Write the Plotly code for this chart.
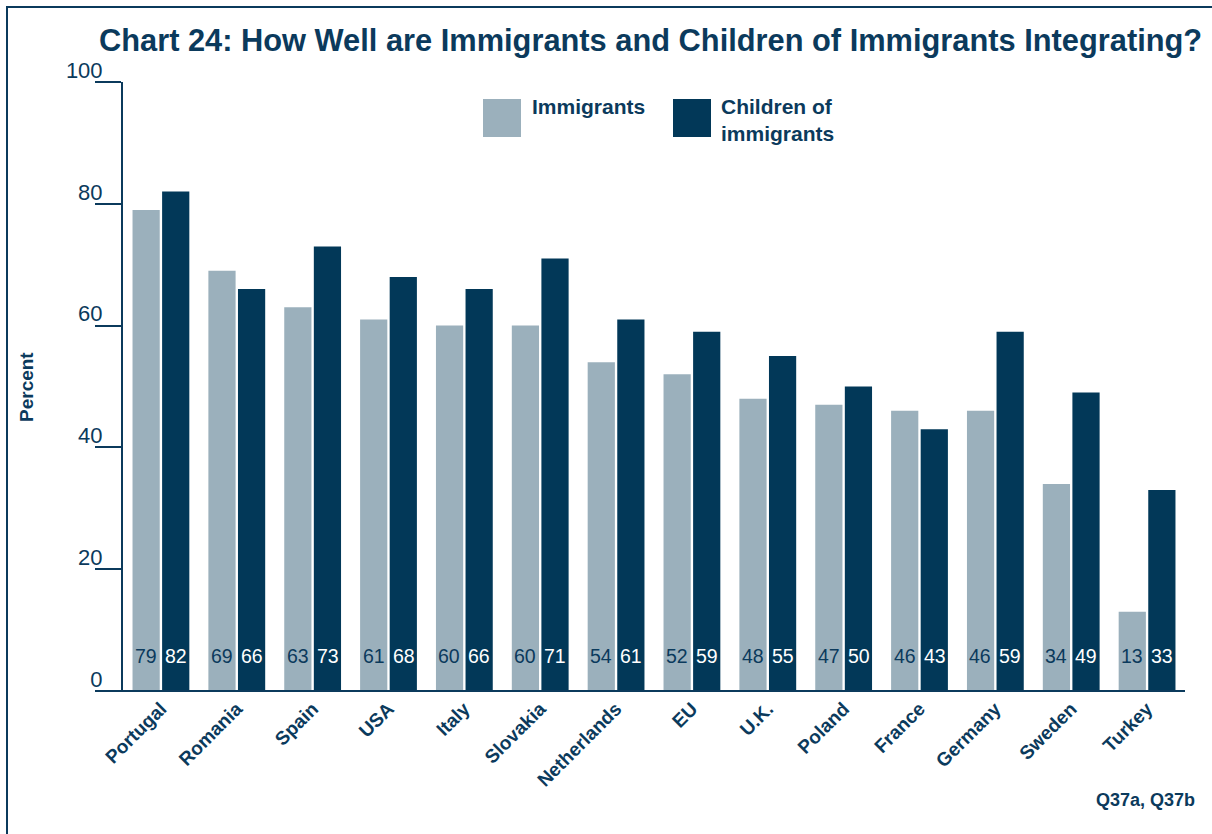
import plotly.graph_objects as go

categories = ["Portugal", "Romania", "Spain", "USA", "Italy", "Slovakia", "Netherlands",
              "EU", "U.K.", "Poland", "France", "Germany", "Sweden", "Turkey"]
immigrants = [79, 69, 63, 61, 60, 60, 54, 52, 48, 47, 46, 46, 34, 13]
children = [82, 66, 73, 68, 66, 71, 61, 59, 55, 50, 43, 59, 49, 33]
y_ticks = [0, 20, 40, 60, 80, 100]

LIGHT = "#9bb0bc"
DARK = "#023858"
TEXT = "#0b3a5c"
FONT = "Liberation Sans, Arial, sans-serif"

W, H = 1212, 834
L, R, T, B = 123, 27, 82, 143
PW, PH = W - L - R, H - T - B


def px_x(p):
    return (p - L) / PW


def px_y(p):
    return (H - B - p) / PH


fig = go.Figure()
fig.add_trace(go.Bar(x=categories, y=immigrants, name="Immigrants",
                     marker=dict(color=LIGHT, line=dict(width=0))))
fig.add_trace(go.Bar(x=categories, y=children, name="Children of immigrants",
                     marker=dict(color=DARK, line=dict(width=0))))

annotations = []
for c, a, b in zip(categories, immigrants, children):
    annotations.append(dict(x=c, y=0, xref="x", yref="y", text=str(a), showarrow=False,
                            xshift=-15, yshift=35, yanchor="middle",
                            font=dict(family=FONT, size=19.5, color=TEXT)))
    annotations.append(dict(x=c, y=0, xref="x", yref="y", text=str(b), showarrow=False,
                            xshift=15, yshift=35, yanchor="middle",
                            font=dict(family=FONT, size=19.5, color="white")))

# title
annotations.append(dict(x=px_x(97), y=px_y(40), xref="paper", yref="paper",
                        text="<b>Chart 24: How Well are Immigrants and Children of Immigrants Integrating?</b>",
                        showarrow=False, xanchor="left", yanchor="middle",
                        font=dict(family=FONT, size=30.8, color=TEXT)))
# y title
annotations.append(dict(x=px_x(27), y=px_y(387), xref="paper", yref="paper", text="<b>Percent</b>",
                        showarrow=False, textangle=-90, xanchor="center", yanchor="middle",
                        font=dict(family=FONT, size=19, color=TEXT)))
# legend texts
annotations.append(dict(x=px_x(530), y=px_y(93), xref="paper", yref="paper", text="<b>Immigrants</b>",
                        showarrow=False, xanchor="left", yanchor="top", align="left",
                        font=dict(family=FONT, size=21, color=TEXT)))
annotations.append(dict(x=px_x(719), y=px_y(93), xref="paper", yref="paper",
                        text="<b>Children of<br>immigrants</b>",
                        showarrow=False, xanchor="left", yanchor="top", align="left",
                        font=dict(family=FONT, size=21, color=TEXT)))
# footnote
annotations.append(dict(x=px_x(1197), y=px_y(800), xref="paper", yref="paper", text="<b>Q37a, Q37b</b>",
                        showarrow=False, xanchor="right", yanchor="middle",
                        font=dict(family=FONT, size=18, color=TEXT)))

shapes = [
    # legend squares
    dict(type="rect", xref="paper", yref="paper", x0=px_x(483), x1=px_x(521), y0=px_y(99), y1=px_y(137),
         fillcolor=LIGHT, line=dict(width=0)),
    dict(type="rect", xref="paper", yref="paper", x0=px_x(673), x1=px_x(711), y0=px_y(99), y1=px_y(137),
         fillcolor=DARK, line=dict(width=0)),
    # x axis baseline extending left
    dict(type="line", xref="paper", yref="paper", x0=px_x(97), x1=1, y0=0, y1=0,
         line=dict(color=TEXT, width=2)),
    # frame: left edge and top edge
    dict(type="line", xref="paper", yref="paper", x0=px_x(7), x1=px_x(7), y0=px_y(7), y1=px_y(850),
         line=dict(color=TEXT, width=2)),
    dict(type="line", xref="paper", yref="paper", x0=px_x(6), x1=px_x(1212), y0=px_y(7), y1=px_y(7),
         line=dict(color=TEXT, width=2)),
]

fig.update_layout(
    width=W, height=H,
    margin=dict(l=L, r=R, t=T, b=B, pad=0),
    paper_bgcolor="white", plot_bgcolor="white",
    barmode="group", bargap=0.22, bargroupgap=0.08,
    showlegend=False,
    annotations=annotations, shapes=shapes,
    font=dict(family=FONT, color=TEXT),
    xaxis=dict(showgrid=False, showline=False, zeroline=False, ticks="",
               tickangle=-45, tickfont=dict(family=FONT, size=19, color=TEXT, weight="bold"),
               ticklabelstandoff=2),
    yaxis=dict(range=[0, 100], showgrid=False, zeroline=False, showline=True,
               linecolor=TEXT, linewidth=2, tickvals=y_ticks, ticktext=[str(v) for v in y_ticks],
               ticks="outside", ticklen=26, tickwidth=2, tickcolor=TEXT,
               ticklabelshift=-12, ticklabelstandoff=-12,
               tickfont=dict(family=FONT, size=22, color=TEXT)),
)

fig.write_html("out.html", config={"displayModeBar": False})

with open("out.html", "r", encoding="utf-8") as f:
    html = f.read()
html = html.replace("<head>", "<head><style>body{margin:0;padding:0;}</style>", 1)
with open("out.html", "w", encoding="utf-8") as f:
    f.write(html)
